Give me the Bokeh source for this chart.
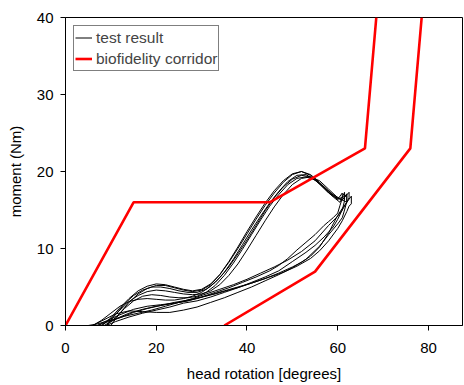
from bokeh.plotting import figure
from bokeh.models import Range1d, Legend, LegendItem, FixedTicker
from bokeh.embed import file_html
from bokeh.resources import INLINE

# Biofidelity corridor (degrees, Nm)
upper_x = [0, 15, 45, 66, 68.5]
upper_y = [0, 16, 16, 23, 40]
lower_x = [35, 55, 76, 78.5]
lower_y = [0, 7, 23, 40]

# Test results: loading then unloading paths
loop1_x = [8,10,12,14,16,18,20,22,24,26,28,30,32,34,36,38,40,42,44,46,48,50,52,54,56,58,60,61,62,
           62,61,60,59,58,56,54,52,50,47,44,41,38,35,32,29,26,23,20,17,14,12,10,8.5]
loop1_y = [0,1.0,2.3,3.5,4.5,5.1,5.4,5.3,5.0,4.7,4.5,4.7,5.4,6.6,8.2,10.0,11.9,13.8,15.6,17.2,18.6,19.6,20.0,19.6,18.6,17.4,16.5,16.3,17.1,
           16.0,15.2,14.3,13.2,12.0,10.2,9.0,8.2,7.6,6.8,6.1,5.5,5.0,4.5,4.0,3.5,3.1,2.8,2.5,2.1,1.6,1.1,0.5,0]
loop2_x = [9,11,13,15,17,19,21,23,25,27,29,31,33,35,37,39,41,43,45,47,49,51,53,55,57,59,60.5,61.5,
           61.5,61,60,59,57,55,53,50,47,44,41,38,35,32,29,26,23,20,17,14,11,9]
loop2_y = [0,1.4,2.8,3.9,4.6,5.0,5.0,4.8,4.5,4.3,4.3,4.7,5.6,6.9,8.6,10.5,12.4,14.2,15.9,17.4,18.7,19.5,19.6,18.9,17.8,16.7,16.0,17.3,
           16.2,15.0,13.8,12.8,11.5,10.4,9.5,8.3,7.1,6.3,5.6,4.9,4.3,3.7,3.2,2.9,2.4,2.0,1.6,1.1,0.5,0]
loop3_x = [8,10,12,14,16,18,20,22,24,26,28,30,32,34,36,38,40,42,44,46,48,50,52,54,56,58,60,62,63,
           63,62.5,62,61,60,58,56,54,51,48,45,42,39,36,33,30,27,24,21,18,15,12,9,7]
loop3_y = [0,0.9,2.0,3.1,3.9,4.4,4.6,4.5,4.3,4.1,4.0,4.1,4.5,5.3,6.5,8.0,9.8,11.7,13.6,15.4,17.0,18.3,19.1,19.3,18.8,17.7,16.6,16.0,16.8,
           15.8,15.5,14.8,13.6,12.6,11.0,9.7,8.7,7.7,6.9,6.3,5.7,5.1,4.6,4.1,3.7,3.3,3.0,2.6,2.2,1.7,1.0,0.4,0]
loop4_x = [9,11,13,15,17,19,21,23,25,27,29,31,33,35,37,39,41,43,45,47,49,51,53,55,57,59,61,62.5,
           62.5,62,61,60,58,55,52,49,46,43,40,37,34,31,28,25,22,19,16,13,10,7,5]
loop4_y = [0,1.0,2.2,3.2,3.8,4.0,3.9,3.7,3.6,3.6,3.8,4.3,5.2,6.5,8.1,9.9,11.8,13.7,15.5,17.0,18.3,19.1,19.3,18.9,18.0,17.0,16.3,17.3,
           16.6,16.0,15.0,14.2,13.0,11.0,9.6,8.5,7.6,6.8,6.0,5.3,4.7,4.1,3.5,3.0,2.5,2.0,1.6,1.2,0.7,0.2,0]
loop5_x = [10,12,14,16,18,20,22,24,26,28,30,32,34,36,38,40,42,44,46,48,50,52,54,56,58,60,61,
           61,60.5,60,59,58,57,55,53,51,49,47,45,42,39,36,33,30,27,24,21,18,15,12,9,7]
loop5_y = [0,1.6,3.0,4.1,4.8,5.2,5.2,4.9,4.6,4.4,4.6,5.3,6.6,8.3,10.2,12.2,14.1,15.9,17.5,18.8,19.7,20.0,19.5,18.5,17.3,16.4,17.2,
           16.5,15.6,14.6,14.0,13.5,13.0,11.8,10.8,9.8,8.7,7.8,7.1,6.3,5.6,4.9,4.3,3.7,3.2,2.9,2.7,2.5,2.1,1.4,0.6,0]
loop6_x = [6,8,10,12,14,16,18,20,22,24,26,28,30,32,34,36,38,40,42,44,46,48,50,52,54,56,58,60,62,
           62,61.5,61,60,58,56,53,50,47,44,41,38,35,32,29,26,23,20,17,14,11,8,6]
loop6_y = [0,0.7,1.6,2.5,3.1,3.4,3.5,3.4,3.3,3.3,3.5,3.8,4.3,5.1,6.2,7.6,9.3,11.1,13.0,14.9,16.6,18.0,19.0,19.5,19.3,18.4,17.2,16.4,16.9,
           16.1,15.0,14.0,13.2,11.8,10.3,8.6,7.5,6.6,5.8,5.0,4.3,3.6,3.0,2.4,2.0,1.7,1.7,1.8,1.9,1.5,0.6,0]

x_ticks = [0, 20, 40, 60, 80]
y_ticks = [0, 10, 20, 30, 40]

FONT = "Liberation Sans"

p = figure(width=463, height=384, output_backend="svg", toolbar_location=None,
           x_range=Range1d(0, 87.5), y_range=Range1d(0, 40),
           min_border_left=65, min_border_right=1, min_border_top=17, min_border_bottom=59,
           x_axis_label="head rotation [degrees]", y_axis_label="moment (Nm)")
p.grid.visible = False
p.outline_line_color = "black"
p.outline_line_width = 1
p.background_fill_color = "white"
p.border_fill_color = "white"

for ax in (p.xaxis[0], p.yaxis[0]):
    ax.axis_line_color = "black"
    ax.major_tick_line_color = "black"
    ax.minor_tick_line_color = None
    ax.major_tick_out = 5
    ax.major_tick_in = 0
    ax.major_label_text_font = FONT
    ax.major_label_text_font_size = "15px"
    ax.major_label_text_color = "black"
    ax.axis_label_text_font = FONT
    ax.axis_label_text_font_size = "15px"
    ax.axis_label_text_font_style = "normal"
    ax.axis_label_text_color = "black"
p.xaxis.ticker = FixedTicker(ticks=x_ticks)
p.yaxis.ticker = FixedTicker(ticks=y_ticks)
p.xaxis.major_label_standoff = 12
p.yaxis.major_label_standoff = 7
p.xaxis.axis_label_standoff = 9
p.yaxis.axis_label_standoff = 10

xs = [loop1_x, loop2_x, loop3_x, loop4_x, loop5_x, loop6_x]
ys = [loop1_y, loop2_y, loop3_y, loop4_y, loop5_y, loop6_y]
tests = p.multi_line(xs, ys, line_color="black", line_width=1.0)

up = p.line(upper_x, upper_y, line_color="#ff0000", line_width=2.6)
p.line(lower_x, lower_y, line_color="#ff0000", line_width=2.6)

legend = Legend(items=[LegendItem(label="test result", renderers=[tests]),
                       LegendItem(label="biofidelity corridor", renderers=[up])],
                location="top_left")
legend.margin = 8
legend.padding = 1
legend.spacing = 0
legend.glyph_width = 17
legend.glyph_height = 21
legend.label_height = 21
legend.label_standoff = 4
legend.label_text_font = FONT
legend.label_text_font_size = "15.5px"
legend.border_line_color = "black"
legend.border_line_width = 1
legend.background_fill_alpha = 1
p.add_layout(legend)

open("out.html", "w").write(file_html(p, INLINE))
